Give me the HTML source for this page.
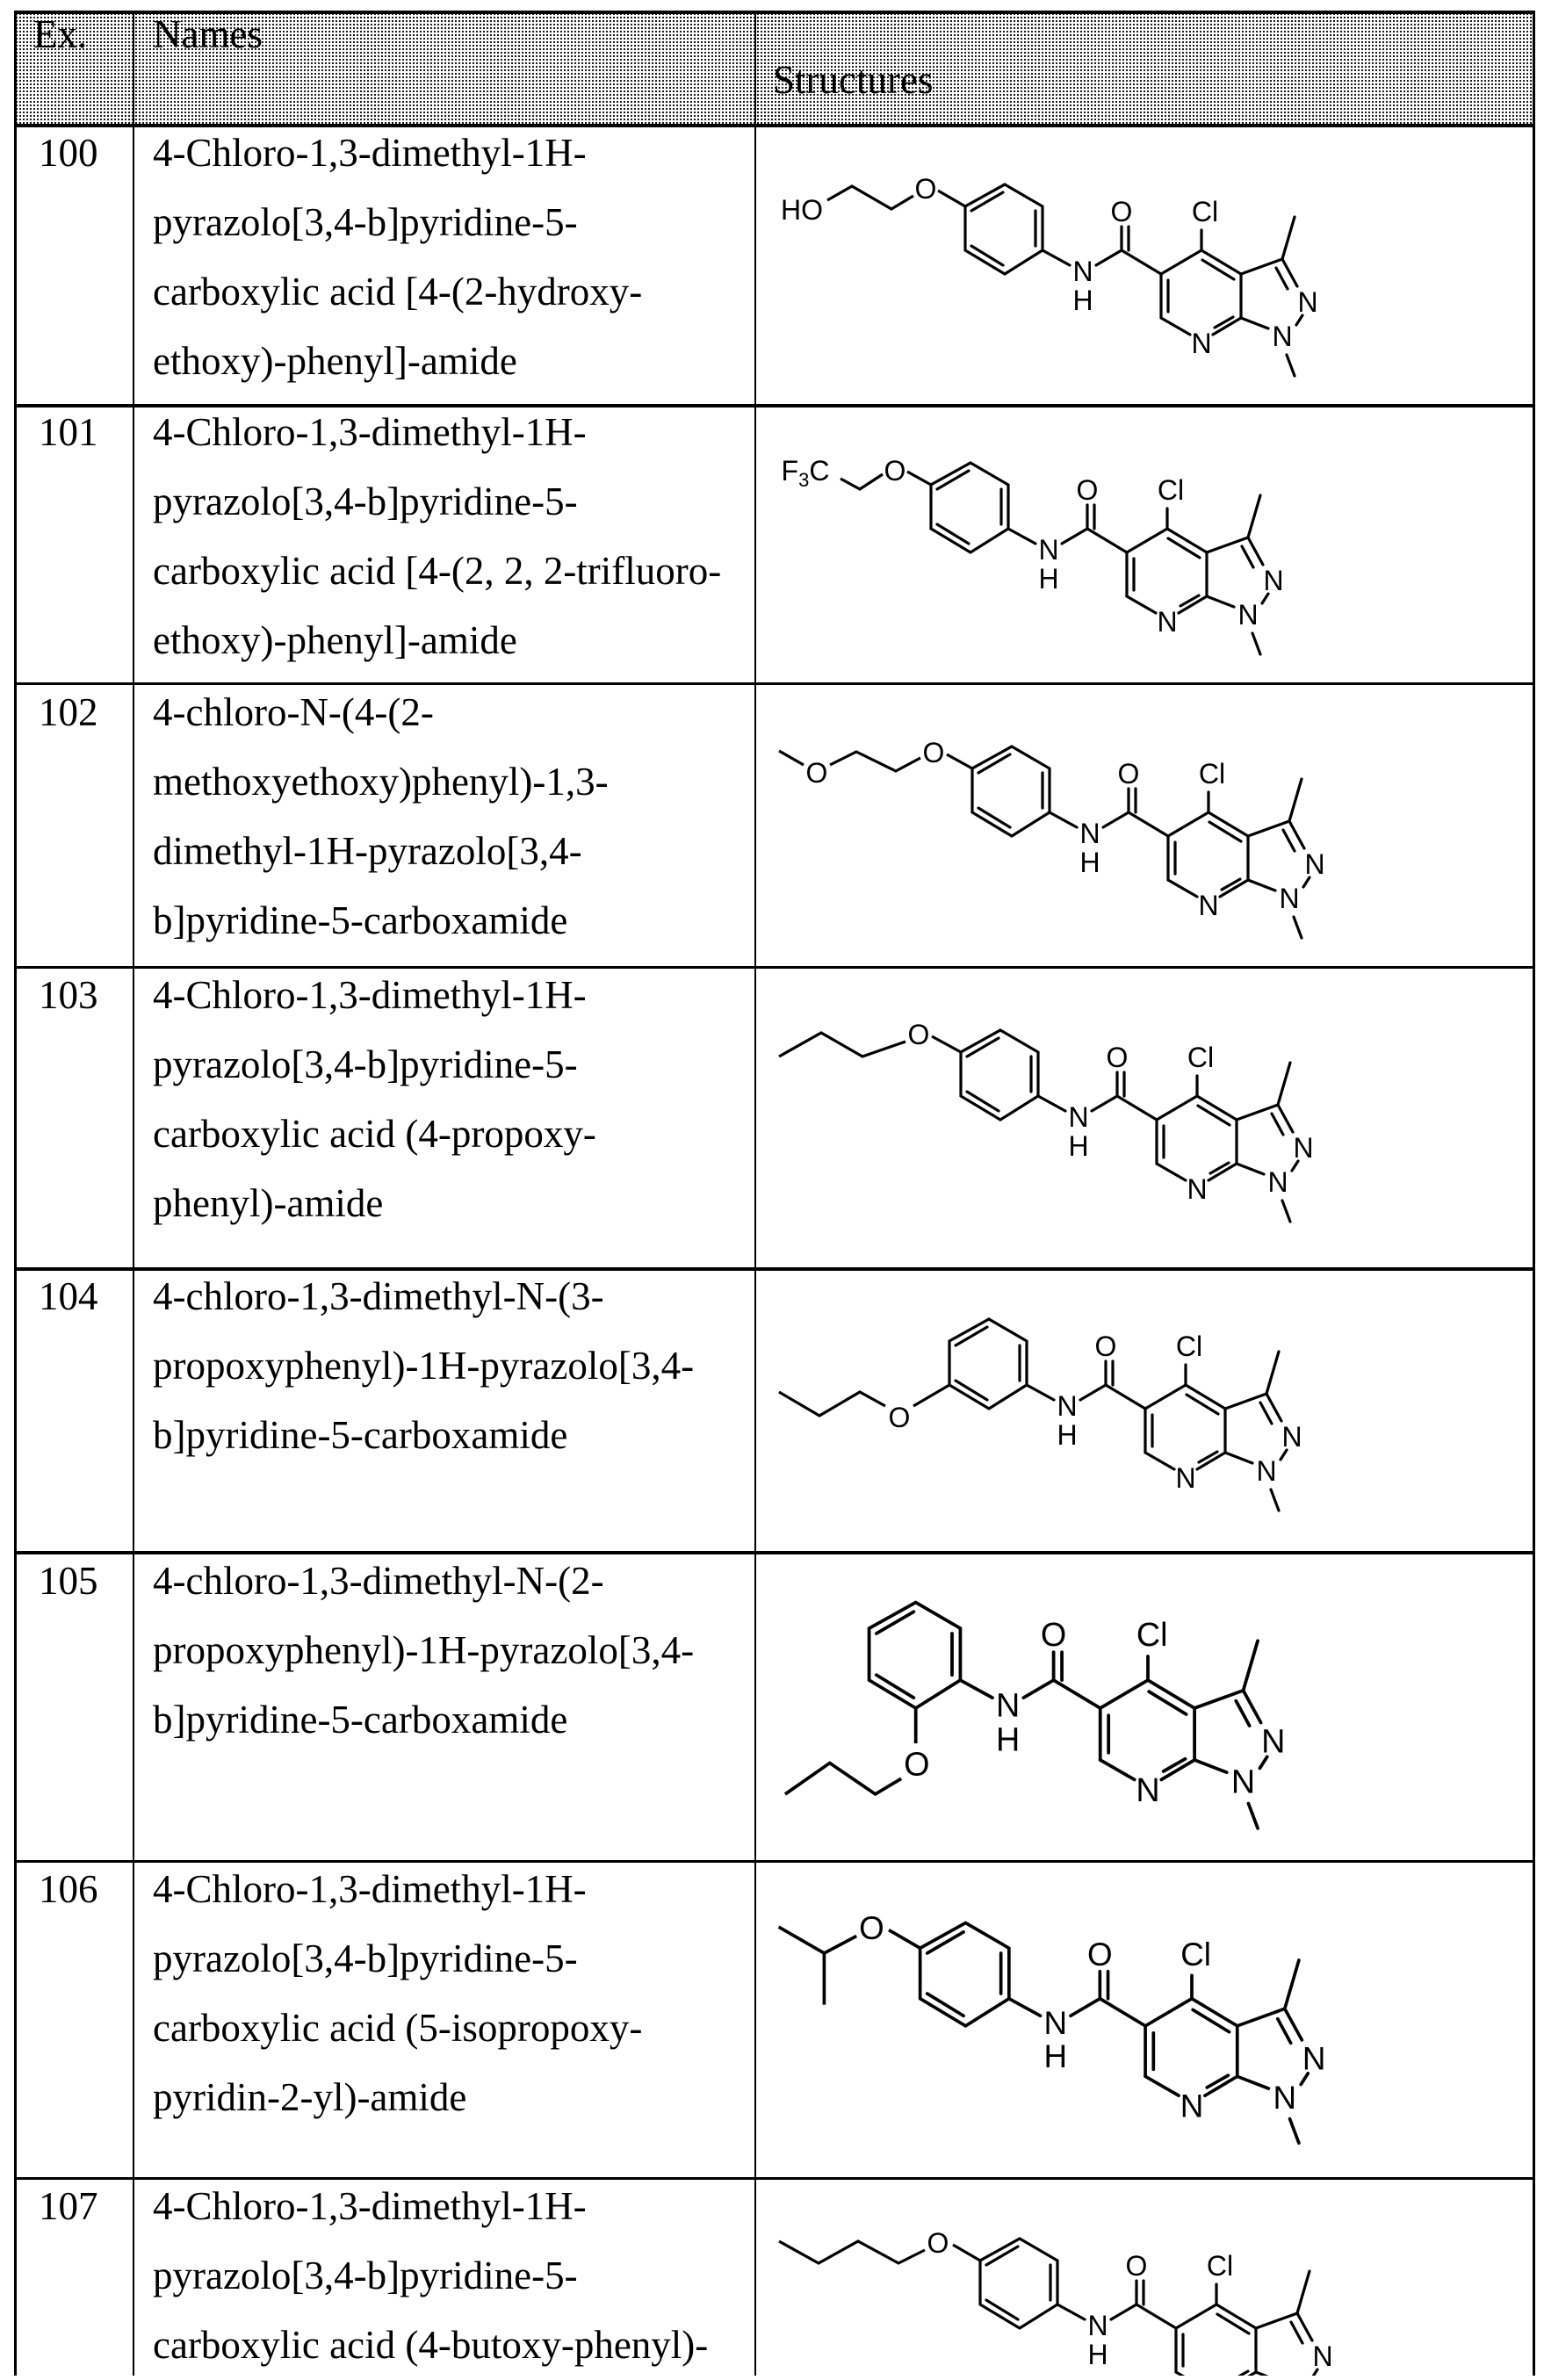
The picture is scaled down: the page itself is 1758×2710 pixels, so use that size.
<!DOCTYPE html>
<html><head><meta charset="utf-8"><style>
html,body{margin:0;padding:0;background:#fff;}
body{width:1758px;height:2705px;position:relative;overflow:hidden;font-family:"Liberation Serif",serif;color:#000;}
.hdr{position:absolute;left:17px;top:14px;width:1730px;height:129px;background-color:#fff;
background-image:radial-gradient(circle,#000 0.9px,transparent 1.3px);background-size:4px 4px;}
.hl{position:absolute;left:17px;width:1730px;background:#000;}
.vl{position:absolute;background:#000;}
.t{position:absolute;font-size:45px;line-height:79px;white-space:nowrap;}
.ex{position:absolute;left:44px;font-size:45px;line-height:79px;}
</style></head><body>
<div class="hdr"></div>
<div class="hl" style="top:12px;height:4px"></div>
<div class="hl" style="top:141px;height:4px"></div>
<div class="hl" style="top:460px;height:4px"></div>
<div class="hl" style="top:777px;height:3px"></div>
<div class="hl" style="top:1100px;height:3px"></div>
<div class="hl" style="top:1443px;height:4px"></div>
<div class="hl" style="top:1766px;height:4px"></div>
<div class="hl" style="top:2118px;height:3px"></div>
<div class="hl" style="top:2479px;height:3px"></div>
<div class="vl" style="left:16px;top:12px;width:3px;height:2693px"></div>
<div class="vl" style="left:151px;top:12px;width:2px;height:2693px"></div>
<div class="vl" style="left:859px;top:12px;width:2px;height:2693px"></div>
<div class="vl" style="left:1745px;top:12px;width:3px;height:2693px"></div>

<div class="t" style="left:38px;top:4px;line-height:70px">Ex.</div>
<div class="t" style="left:174px;top:4px;line-height:70px">Names</div>
<div class="t" style="left:880px;top:56px;line-height:70px">Structures</div>

<div class="ex" style="top:135px">100</div>
<div class="t" style="left:174px;top:135px">4-Chloro-1,3-dimethyl-1H-<br>pyrazolo[3,4-b]pyridine-5-<br>carboxylic acid [4-(2-hydroxy-<br>ethoxy)-phenyl]-amide</div>
<div class="ex" style="top:453px">101</div>
<div class="t" style="left:174px;top:453px">4-Chloro-1,3-dimethyl-1H-<br>pyrazolo[3,4-b]pyridine-5-<br>carboxylic acid [4-(2, 2, 2-trifluoro-<br>ethoxy)-phenyl]-amide</div>
<div class="ex" style="top:772px">102</div>
<div class="t" style="left:174px;top:772px">4-chloro-N-(4-(2-<br>methoxyethoxy)phenyl)-1,3-<br>dimethyl-1H-pyrazolo[3,4-<br>b]pyridine-5-carboxamide</div>
<div class="ex" style="top:1094px">103</div>
<div class="t" style="left:174px;top:1094px">4-Chloro-1,3-dimethyl-1H-<br>pyrazolo[3,4-b]pyridine-5-<br>carboxylic acid (4-propoxy-<br>phenyl)-amide</div>
<div class="ex" style="top:1437px">104</div>
<div class="t" style="left:174px;top:1437px">4-chloro-1,3-dimethyl-N-(3-<br>propoxyphenyl)-1H-pyrazolo[3,4-<br>b]pyridine-5-carboxamide</div>
<div class="ex" style="top:1761px">105</div>
<div class="t" style="left:174px;top:1761px">4-chloro-1,3-dimethyl-N-(2-<br>propoxyphenyl)-1H-pyrazolo[3,4-<br>b]pyridine-5-carboxamide</div>
<div class="ex" style="top:2112px">106</div>
<div class="t" style="left:174px;top:2112px">4-Chloro-1,3-dimethyl-1H-<br>pyrazolo[3,4-b]pyridine-5-<br>carboxylic acid (5-isopropoxy-<br>pyridin-2-yl)-amide</div>
<div class="ex" style="top:2473px">107</div>
<div class="t" style="left:174px;top:2473px">4-Chloro-1,3-dimethyl-1H-<br>pyrazolo[3,4-b]pyridine-5-<br>carboxylic acid (4-butoxy-phenyl)-</div>

<svg width="1758" height="2705" style="position:absolute;left:0;top:0" xmlns="http://www.w3.org/2000/svg">
<defs>
<g id="core" stroke="#000" stroke-width="3.2" fill="none" stroke-linecap="round">
<line x1="1277" y1="285" x2="1277" y2="258"/><line x1="1285" y1="285" x2="1285" y2="258"/>
<line x1="1277" y1="285" x2="1322" y2="312"/>
<line x1="1277" y1="285" x2="1248" y2="302"/>
<line x1="1322" y1="312" x2="1368" y2="285"/>
<line x1="1368" y1="285" x2="1413" y2="312"/>
<line x1="1369" y1="296" x2="1405" y2="318"/>
<line x1="1413" y1="312" x2="1413" y2="362"/>
<line x1="1322" y1="312" x2="1322" y2="362"/>
<line x1="1330" y1="319" x2="1330" y2="355"/>
<line x1="1322" y1="362" x2="1355" y2="381"/>
<line x1="1413" y1="362" x2="1381" y2="381"/>
<line x1="1404" y1="361" x2="1383" y2="373"/>
<line x1="1368" y1="285" x2="1368" y2="262"/>
<line x1="1413" y1="312" x2="1460" y2="295"/>
<line x1="1460" y1="295" x2="1474" y2="247"/>
<line x1="1460" y1="295" x2="1477" y2="326"/>
<line x1="1453" y1="305" x2="1466" y2="329"/>
<line x1="1483" y1="359" x2="1476" y2="370"/>
<line x1="1413" y1="362" x2="1444" y2="374"/>
<line x1="1465" y1="404" x2="1474" y2="428"/>
</g>
<g id="ph" stroke="#000" stroke-width="3.2" fill="none" stroke-linecap="round">
<polygon points="1144,210 1187,235 1187,285 1144,312 1099,285 1099,235"/>
<line x1="1106" y1="240" x2="1142" y2="219"/>
<line x1="1179" y1="240" x2="1179" y2="280"/>
<line x1="1106" y1="280" x2="1142" y2="302"/>
<line x1="1187" y1="285" x2="1218" y2="302"/>
</g>
</defs>
<g font-family="Liberation Sans, Arial, sans-serif" font-size="32" text-anchor="middle" fill="#000">
<g transform="translate(0,0)">
<use href="#core"/><use href="#ph"/>
<g stroke="#000" stroke-width="3.2" fill="none"><polyline points="1099,235 1068,217"/><polyline points="1040,223 1015,238 970,212 942,228"/></g>
<text x="1277" y="252">O</text><text x="1372" y="252">Cl</text><text x="1233" y="320">N</text><text x="1233" y="353">H</text>
<text x="1368" y="402">N</text><text x="1489" y="355">N</text><text x="1460" y="394">N</text>
<text x="1054" y="226">O</text><text x="913" y="250">HO</text>
</g>
<g transform="translate(-39,317)">
<use href="#core"/><use href="#ph"/>
<g stroke="#000" stroke-width="3.2" fill="none"><polyline points="1099,235 1072,220"/><polyline points="1044,223 1018,240 996,228"/></g>
<text x="1277" y="252">O</text><text x="1372" y="252">Cl</text><text x="1233" y="320">N</text><text x="1233" y="353">H</text>
<text x="1368" y="402">N</text><text x="1489" y="355">N</text><text x="1460" y="394">N</text>
<text x="1058" y="230">O</text><text x="956" y="230">F<tspan font-size="22" dy="7">3</tspan><tspan dy="-7">C</tspan></text>
</g>
<g transform="translate(8,640)">
<use href="#core"/><use href="#ph"/>
<g stroke="#000" stroke-width="3.2" fill="none"><polyline points="1099,235 1070,219"/><polyline points="1040,223 1012,238 967,216 937,231"/><polyline points="907,231 879,215"/></g>
<text x="1055" y="228">O</text><text x="922" y="251">O</text>
<text x="1277" y="252">O</text><text x="1372" y="252">Cl</text><text x="1233" y="320">N</text><text x="1233" y="353">H</text>
<text x="1368" y="402">N</text><text x="1489" y="355">N</text><text x="1460" y="394">N</text>
</g>
<g transform="translate(-5,963)">
<use href="#core"/><use href="#ph"/>
<g stroke="#000" stroke-width="3.2" fill="none"><polyline points="1099,235 1066,217"/><polyline points="1036,223 987,240 940,213 892,240"/></g>
<text x="1051" y="226">O</text>
<text x="1277" y="252">O</text><text x="1372" y="252">Cl</text><text x="1233" y="320">N</text><text x="1233" y="353">H</text>
<text x="1368" y="402">N</text><text x="1489" y="355">N</text><text x="1460" y="394">N</text>
</g>
<g transform="translate(-18,1292)">
<use href="#core"/><use href="#ph"/>
<g stroke="#000" stroke-width="3.2" fill="none"><polyline points="1099,285 1058,309"/><polyline points="1026,309 997,293 951,320 905,293"/></g>
<text x="1042" y="333">O</text>
<text x="1277" y="252">O</text><text x="1372" y="252">Cl</text><text x="1233" y="320">N</text><text x="1233" y="353">H</text>
<text x="1368" y="402">N</text><text x="1489" y="355">N</text><text x="1460" y="394">N</text>
</g>
<g transform="translate(1307,1860) scale(1.18) translate(-1368,-240)">
<use href="#core"/><use href="#ph"/>
<g stroke="#000" stroke-width="3.2" fill="none"><polyline points="1144,312 1144,346"/><polyline points="1130,380 1105,395 1061,365 1018,395"/></g>
<text x="1145" y="377">O</text>
<text x="1277" y="252">O</text><text x="1372" y="252">Cl</text><text x="1233" y="320">N</text><text x="1233" y="353">H</text>
<text x="1368" y="402">N</text><text x="1489" y="355">N</text><text x="1460" y="394">N</text>
</g>
<g transform="translate(1357,2224) scale(1.15) translate(-1368,-240)">
<use href="#core"/><use href="#ph"/>
<g stroke="#000" stroke-width="3.2" fill="none"><polyline points="1099,235 1068,217"/><polyline points="1036,223 1004,240 959,214"/><polyline points="1004,240 1004,291"/></g>
<text x="1051" y="226">O</text>
<text x="1277" y="252">O</text><text x="1372" y="252">Cl</text><text x="1233" y="320">N</text><text x="1233" y="353">H</text>
<text x="1368" y="402">N</text><text x="1489" y="355">N</text><text x="1460" y="394">N</text>
</g>
<g transform="translate(17,2339)">
<use href="#core"/><use href="#ph"/>
<g stroke="#000" stroke-width="3.2" fill="none"><polyline points="1099,235 1068,217"/><polyline points="1036,223 1006,238 960,213 915,238 870,213"/></g>
<text x="1051" y="226">O</text>
<text x="1277" y="252">O</text><text x="1372" y="252">Cl</text><text x="1233" y="320">N</text><text x="1233" y="353">H</text>
<text x="1368" y="402">N</text><text x="1489" y="355">N</text><text x="1460" y="394">N</text>
</g>
</g>
</svg>
</body></html>
